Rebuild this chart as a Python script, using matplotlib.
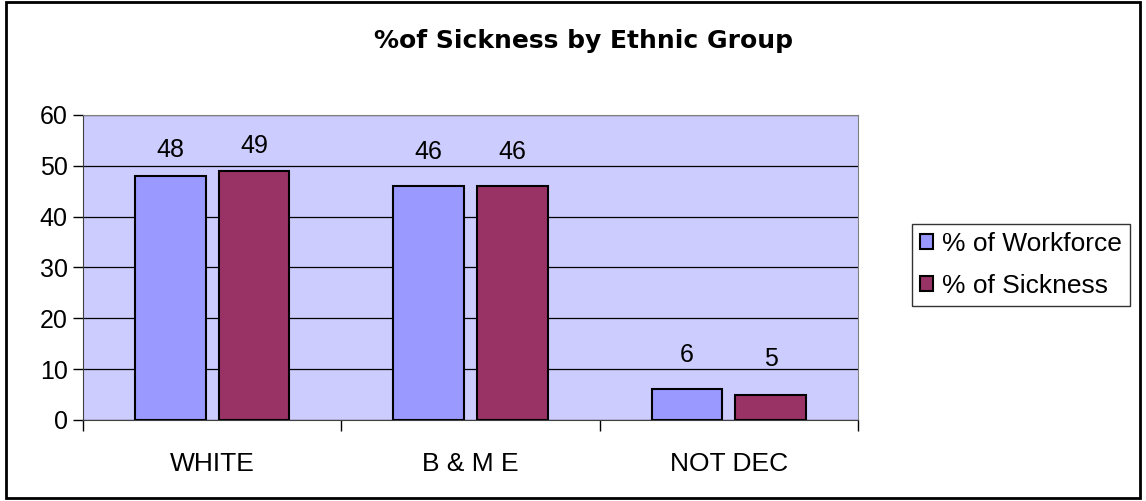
import matplotlib.pyplot as plt
import numpy as np
from matplotlib.patches import Rectangle

plt.rcParams['font.family'] = ['Liberation Sans', 'DejaVu Sans']

groups = ['WHITE', 'B & M E', 'NOT DEC']
workforce = [48, 46, 6]
sickness = [49, 46, 5]
series_names = ['% of Workforce', '% of Sickness']
yticks = [0, 10, 20, 30, 40, 50, 60]

fig = plt.figure(figsize=(11.46, 5.01), dpi=100)
# outer chart frame
fig.patches.append(Rectangle((0.005, 0.006), 0.99, 0.99, transform=fig.transFigure,
                             fill=False, edgecolor='black', linewidth=2))

ax = fig.add_axes([0.0724, 0.1617, 0.6763, 0.6088])
ax.set_facecolor('#CCCCFF')

x = np.arange(len(groups))
w = 0.274
off = 0.162
b1 = ax.bar(x - off, workforce, w, color='#9999FF', edgecolor='black', linewidth=1.5,
            label=series_names[0], zorder=3)
b2 = ax.bar(x + off, sickness, w, color='#993366', edgecolor='black', linewidth=1.5,
            label=series_names[1], zorder=3)

# Excel places the labels a little unevenly, gaps in px
gaps1 = [14, 22, 22]
gaps2 = [13, 22, 24]
for bars, gaps in ((b1, gaps1), (b2, gaps2)):
    for r, g in zip(bars, gaps):
        ax.annotate('%d' % round(r.get_height()),
                    (r.get_x() + r.get_width() / 2, r.get_height()),
                    xytext=(0, g * 0.72), textcoords='offset points',
                    ha='center', va='bottom', fontsize=18)

ax.set_xlim(-0.5, 2.5)
ax.set_ylim(0, 60)
ax.set_yticks(yticks)
ax.tick_params(axis='y', labelsize=18, length=7, width=1, direction='out', pad=4)
ax.yaxis.grid(True, color='black', linewidth=0.9, zorder=1)
ax.set_axisbelow(True)

ax.set_xticks(x)
ax.set_xticklabels(groups, fontsize=19)
ax.set_xticks([-0.5, 0.5, 1.5, 2.5], minor=True)
ax.tick_params(axis='x', which='major', length=0, pad=23)
ax.tick_params(axis='x', which='minor', length=8, width=1, direction='out')

for s in ['top', 'right']:
    ax.spines[s].set_color('#808080')
for s in ['left', 'bottom']:
    ax.spines[s].set_color('#404040')

fig.text(0.509, 0.918, '%of Sickness by Ethnic Group', ha='center', va='center',
         fontsize=18, fontweight='bold', family='DejaVu Sans')

leg = fig.legend(loc='center', bbox_to_anchor=(0.891, 0.471), fontsize=19,
                 frameon=True, fancybox=False, edgecolor='black',
                 handlelength=0.5, handleheight=0.5, handletextpad=0.35,
                 labelspacing=0.7, borderpad=0.3, borderaxespad=0)
leg.get_frame().set_linewidth(1)

fig.savefig('out.png', dpi=100)
